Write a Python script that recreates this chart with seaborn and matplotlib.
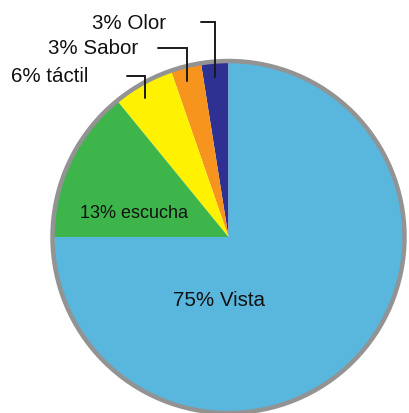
import numpy as np
import matplotlib
matplotlib.use("Agg")
import matplotlib.pyplot as plt
import seaborn as sns
from matplotlib.patches import Circle

sns.set_style("white")
plt.rcParams['font.family'] = ['Liberation Sans', 'DejaVu Sans']

categories = ["Olor", "Sabor", "táctil", "escucha", "Vista"]
label_pct = [3, 3, 6, 13, 75]           # percentages printed in the labels
slice_sizes = [2.5, 2.8, 5.6, 14.1, 75]  # slice sizes as drawn in the picture
colors = ["#2E3192", "#F7941D", "#FFF200", "#3DB54A", "#59B6DD"]

W, H = 410, 413
fig = plt.figure(figsize=(W / 100, H / 100), dpi=100)
ax = fig.add_axes([0, 0, 1, 1])

cx, cy, R = 228.5, H - 237, 176
wedges, _ = ax.pie(slice_sizes, colors=colors, startangle=90, counterclock=True,
                   center=(cx, cy), radius=R, frame=True,
                   wedgeprops=dict(linewidth=0))
ax.set_xlim(0, W)
ax.set_ylim(0, H)
ax.set_aspect("equal")
ax.axis("off")
ax.add_patch(Circle((cx, cy), R, fill=False, edgecolor="#939393", linewidth=3.2, zorder=5))

fs = 14.8
# inner labels
for i, pos, size in [(3, (134, 213), 13.0), (4, (219, 301), fs)]:
    ax.text(pos[0], H - pos[1], f"{label_pct[i]}% {categories[i]}", ha="center", va="center",
            fontsize=size, color="#111111")

# outer labels with elbow leader lines
label_y = [22, 48, 76]
label_right = [166, 138, 88]
elbow_x = [201, 158, 127]
line_x = [215.5, 187.5, 145.5]
line_bottom = [77, 81, 98]
for i in range(3):
    ly = H - label_y[i]
    ax.plot([elbow_x[i], line_x[i], line_x[i]], [ly, ly, H - line_bottom[i]], color="#1a1a1a",
            lw=1.4, solid_joinstyle="miter", zorder=6)
    ax.text(label_right[i], ly - 1, f"{label_pct[i]}% {categories[i]}", ha="right", va="center",
            fontsize=fs, color="#111111")

fig.savefig("out.png", dpi=100, facecolor="white")
